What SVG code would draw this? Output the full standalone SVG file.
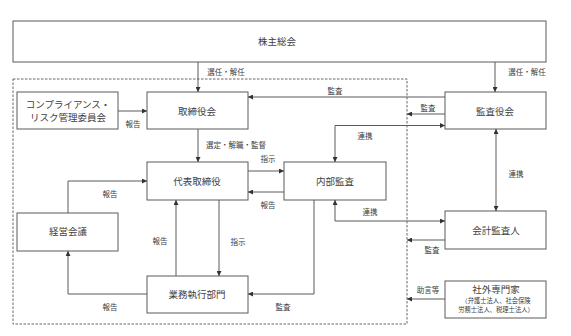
<svg xmlns="http://www.w3.org/2000/svg" width="571" height="336" viewBox="0 0 571 336">
<defs>
<marker id="ah" viewBox="0 0 6 6" refX="6" refY="3" markerWidth="5" markerHeight="5" orient="auto-start-reverse" markerUnits="userSpaceOnUse">
<path d="M0,0 L6,3 L0,6 Z" fill="#333"/>
</marker>
</defs>
<style>
.box{fill:#fff;stroke:#5a5a5a;stroke-width:1}
.t{font-family:"Noto Sans CJK JP","Noto Sans",sans-serif;font-size:9.5px;fill:#404040;text-anchor:middle;dominant-baseline:central}
.s{font-family:"Noto Sans CJK JP","Noto Sans",sans-serif;font-size:7.5px;fill:#404040;text-anchor:middle;dominant-baseline:central}
.xs{font-family:"Noto Sans CJK JP","Noto Sans",sans-serif;font-size:6.3px;fill:#404040;text-anchor:middle;dominant-baseline:central}
.c{fill:none;stroke:#5a5a5a;stroke-width:1}
.a{marker-end:url(#ah)}
.b{marker-start:url(#ah);marker-end:url(#ah)}
.dash{fill:none;stroke:#666;stroke-width:1;stroke-dasharray:2.5,1.5}
</style>
<rect width="571" height="336" fill="#fff"/>
<rect id="boundary" class="dash" x="13" y="79" width="394" height="245"/>
<g id="n_shareholders"><rect class="box" x="13" y="21" width="533" height="41"/><text class="t" x="277" y="41">株主総会</text></g>
<g id="n_compliance"><rect class="box" x="17" y="92" width="101" height="37"/><text class="t" x="68" y="104">コンプライアンス・</text><text class="t" x="68" y="117">リスク管理委員会</text></g>
<g id="n_board"><rect class="box" x="147" y="92" width="101" height="37"/><text class="t" x="197" y="111">取締役会</text></g>
<g id="n_auditboard"><rect class="box" x="445" y="92" width="101" height="37"/><text class="t" x="495" y="111">監査役会</text></g>
<g id="n_ceo"><rect class="box" x="147" y="162" width="101" height="38"/><text class="t" x="197" y="181">代表取締役</text></g>
<g id="n_internal"><rect class="box" x="284" y="162" width="102" height="38"/><text class="t" x="335" y="181">内部監査</text></g>
<g id="n_mgmt"><rect class="box" x="17" y="213" width="101" height="38"/><text class="t" x="68" y="231">経営会議</text></g>
<g id="n_accountant"><rect class="box" x="445" y="211" width="101" height="38"/><text class="t" x="496" y="230">会計監査人</text></g>
<g id="n_ops"><rect class="box" x="147" y="276" width="101" height="37"/><text class="t" x="197" y="294">業務執行部門</text></g>
<g id="n_experts"><rect class="box" x="445" y="281" width="101" height="37"/><text class="t" x="496" y="288.5">社外専門家</text><text class="xs" x="496" y="300.5">（弁護士法人、社会保険</text><text class="xs" x="496" y="309.5">労務士法人、税理士法人）</text></g>
<g id="connectors">
<line class="c a" x1="198" y1="62" x2="198" y2="92"/>
<line class="c a" x1="495" y1="62" x2="495" y2="92"/>
<line class="c a" x1="118" y1="111" x2="147" y2="111"/>
<line class="c a" x1="445" y1="97" x2="248" y2="97"/>
<line class="c a" x1="445" y1="114" x2="407" y2="114"/>
<polyline class="c b" points="335,162 335,125.5 445,125.5"/>
<line class="c a" x1="198" y1="129" x2="198" y2="162"/>
<line class="c a" x1="248" y1="171" x2="284" y2="171"/>
<line class="c a" x1="284" y1="192" x2="248" y2="192"/>
<polyline class="c a" points="68,213 68,181 147,181"/>
<line class="c b" x1="496" y1="129" x2="496" y2="211"/>
<polyline class="c b" points="335,200 335,221 445,221"/>
<line class="c a" x1="176" y1="276" x2="176" y2="200"/>
<line class="c a" x1="219" y1="200" x2="219" y2="276"/>
<polyline class="c a" points="147,294 68,294 68,251"/>
<polyline class="c a" points="314,200 314,294 248,294"/>
<line class="c a" x1="445" y1="240" x2="407" y2="240"/>
<line class="c a" x1="445" y1="299" x2="407" y2="299"/>
</g>
<g id="labels">
<text class="s" x="226" y="71">選任・解任</text>
<text class="s" x="527" y="71">選任・解任</text>
<text class="s" x="335" y="90">監査</text>
<text class="s" x="428" y="107">監査</text>
<text class="s" x="133" y="123">報告</text>
<text class="s" x="365" y="135">連携</text>
<text class="s" x="236" y="144">選定・解職・監督</text>
<text class="s" x="268" y="158">指示</text>
<text class="s" x="516" y="173">連携</text>
<text class="s" x="110" y="193">報告</text>
<text class="s" x="268" y="204">報告</text>
<text class="s" x="370" y="211">連携</text>
<text class="s" x="160" y="240">報告</text>
<text class="s" x="238" y="241">指示</text>
<text class="s" x="432" y="249">監査</text>
<text class="s" x="428" y="289">助言等</text>
<text class="s" x="110" y="306">報告</text>
<text class="s" x="283" y="306">監査</text>
</g>
</svg>
